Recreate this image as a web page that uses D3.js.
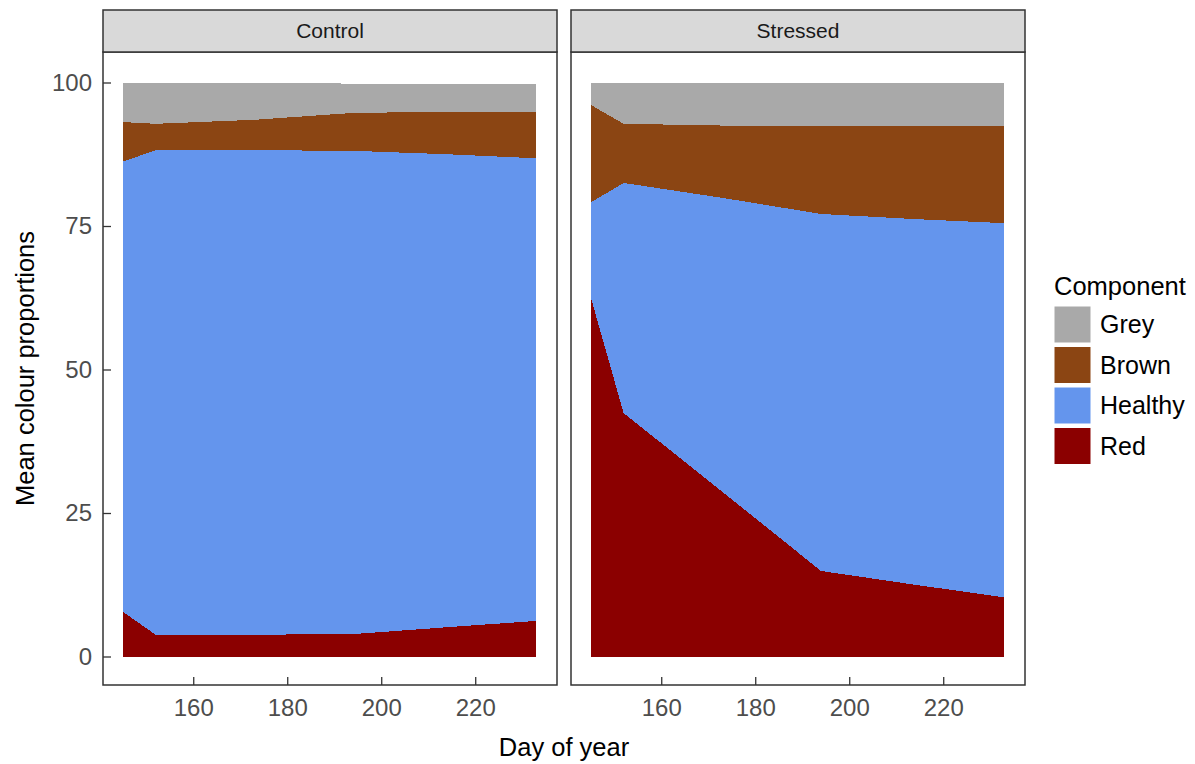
<!DOCTYPE html>
<html>
<head>
<meta charset="utf-8">
<script src="https://cdn.jsdelivr.net/npm/d3@7"></script>
<style>
  html, body { margin: 0; padding: 0; background: #fff; }
  svg { display: block; font-family: "Liberation Sans", Arial, sans-serif; }
</style>
</head>
<body>
<svg id="chart" width="1195" height="764"></svg>
<script>
// Sampling days and facet conditions
const days = [145, 152, 173, 194, 214, 233];
const conditions = ["Control", "Stressed"];

// Component order as listed in the legend (top of stack first)
const components = ["Grey", "Brown", "Healthy", "Red"];
const componentColors = ["#A9A9A9", "#8B4513", "#6495ED", "#8B0000"];

// Mean colour proportions (%) per component, Control plants
const controlRed     = [7.8, 3.8, 3.8, 3.9, 5.1, 6.2];
const controlHealthy = [78.4, 84.4, 84.4, 84.2, 82.4, 80.6];
const controlBrown   = [6.9, 4.6, 5.3, 6.6, 7.4, 8.1];
const controlGrey    = [6.9, 7.2, 6.5, 5.1, 4.9, 4.9];

// Mean colour proportions (%) per component, Stressed plants
const stressedRed     = [62.6, 42.4, 28.7, 14.9, 12.5, 10.3];
const stressedHealthy = [16.5, 40.1, 51.2, 62.2, 63.7, 65.2];
const stressedBrown   = [17.0, 10.3, 12.6, 15.4, 16.3, 17.0];
const stressedGrey    = [3.9, 7.2, 7.5, 7.5, 7.5, 7.5];

const xTicks = [160, 180, 200, 220];
const yTicks = [0, 25, 50, 75, 100];

const seriesByCondition = {
  Control:  { Red: controlRed,  Healthy: controlHealthy,  Brown: controlBrown,  Grey: controlGrey },
  Stressed: { Red: stressedRed, Healthy: stressedHealthy, Brown: stressedBrown, Grey: stressedGrey }
};

function rows(cond) {
  const s = seriesByCondition[cond];
  return days.map((d, i) => ({ day: d, Red: s.Red[i], Healthy: s.Healthy[i], Brown: s.Brown[i], Grey: s.Grey[i] }));
}

const svg = d3.select("#chart");
const color = d3.scaleOrdinal().domain(components).range(componentColors);
const font = "Liberation Sans, Arial, sans-serif";

// Layout
const panelTop = 52, panelBottom = 685, stripTop = 10;
const panelLefts = [103, 571], panelWidth = 454;
const ink = "#333333";

// Continuous scales with a small margin around the data
const y = d3.scaleLinear().domain([0, 100]).range([656.5, 82.5]);

const stack = d3.stack().keys(["Red", "Healthy", "Brown", "Grey"]);

conditions.forEach((cond, ci) => {
  const left = panelLefts[ci];
  const x = d3.scaleLinear().domain([140.8, 237.4]).range([left, left + panelWidth]);
  const g = svg.append("g");

  const area = d3.area()
    .x(d => x(d.data.day))
    .y0(d => y(d[0]))
    .y1(d => y(d[1]));

  g.selectAll("path.layer")
    .data(stack(rows(cond)))
    .join("path")
    .attr("class", "layer")
    .attr("d", area)
    .attr("fill", d => color(d.key))
    .attr("shape-rendering", "crispEdges");

  // Panel border
  g.append("rect")
    .attr("x", left).attr("y", panelTop)
    .attr("width", panelWidth).attr("height", panelBottom - panelTop)
    .attr("fill", "none").attr("stroke", ink).attr("stroke-width", 1.5);

  // Facet strip
  g.append("rect")
    .attr("x", left).attr("y", stripTop)
    .attr("width", panelWidth).attr("height", panelTop - stripTop)
    .attr("fill", "#D9D9D9").attr("stroke", ink).attr("stroke-width", 1.5);
  g.append("text")
    .attr("x", left + panelWidth / 2).attr("y", (stripTop + panelTop) / 2)
    .attr("dy", "0.35em").attr("text-anchor", "middle")
    .attr("font-size", 21).attr("fill", "#1A1A1A")
    .text(cond);

  // Bottom axis (ticks point into the panel)
  const xAxis = d3.axisBottom(x).tickValues(xTicks).tickSize(-8).tickPadding(14);
  const ax = g.append("g").attr("transform", `translate(0,${panelBottom})`).call(xAxis);
  ax.select(".domain").remove();
  ax.selectAll(".tick line").attr("stroke", ink).attr("stroke-width", 1.3);
  ax.selectAll(".tick text").attr("font-size", 24).attr("fill", "#4D4D4D").attr("font-family", font);

  if (ci === 0) {
    const yAxis = d3.axisLeft(y).tickValues(yTicks).tickSize(-8).tickPadding(11);
    const ay = g.append("g").attr("transform", `translate(${left},0)`).call(yAxis);
    ay.select(".domain").remove();
    ay.selectAll(".tick line").attr("stroke", ink).attr("stroke-width", 1.3);
    ay.selectAll(".tick text").attr("font-size", 24).attr("fill", "#4D4D4D").attr("font-family", font);
  }
});

// Axis titles
svg.append("text")
  .attr("x", (panelLefts[0] + panelLefts[1] + panelWidth) / 2).attr("y", 756)
  .attr("text-anchor", "middle").attr("font-size", 25.5).attr("fill", "#000")
  .text("Day of year");
svg.append("text")
  .attr("transform", `translate(34,${(panelTop + panelBottom) / 2}) rotate(-90)`)
  .attr("text-anchor", "middle").attr("font-size", 25.5).attr("fill", "#000")
  .text("Mean colour proportions");

// Legend
const legend = svg.append("g").attr("transform", "translate(1054,0)");
legend.append("text").attr("x", 0).attr("y", 295)
  .attr("font-size", 25.5).attr("fill", "#000").text("Component");
const keyRows = legend.selectAll("g.key").data(components).join("g")
  .attr("class", "key")
  .attr("transform", (d, i) => `translate(0,${306 + i * 40.5})`);
keyRows.append("rect").attr("width", 37).attr("height", 37)
  .attr("fill", d => color(d)).attr("stroke", "#fff").attr("stroke-width", 1);
keyRows.append("text").attr("x", 46).attr("y", 18.5).attr("dy", "0.35em")
  .attr("font-size", 25).attr("fill", "#000").text(d => d);
</script>
</body>
</html>
